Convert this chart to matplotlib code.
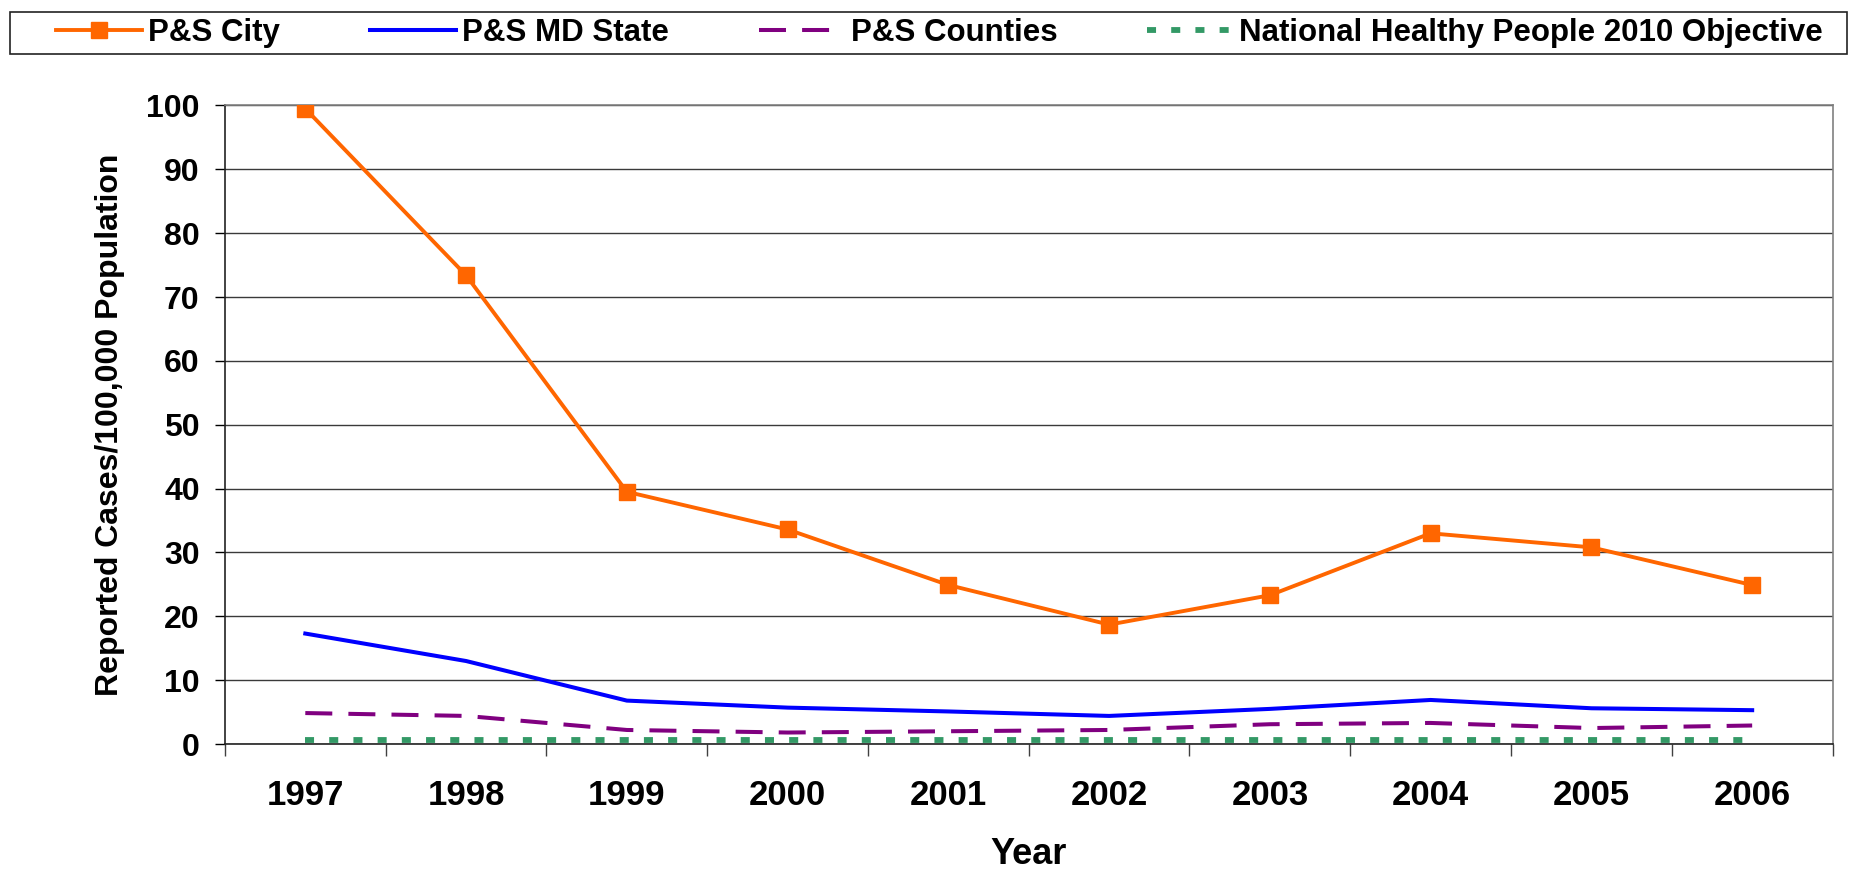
import matplotlib.pyplot as plt
from matplotlib.patches import Rectangle
import numpy as np

plt.rcParams['font.family'] = ['Liberation Sans', 'DejaVu Sans']
plt.rcParams['font.weight'] = 'bold'

years = ['1997', '1998', '1999', '2000', '2001', '2002', '2003', '2004', '2005', '2006']
city = [99.5, 73.4, 39.5, 33.6, 24.9, 18.7, 23.3, 33.0, 30.8, 24.9]
md_state = [17.3, 13.0, 6.8, 5.7, 5.1, 4.4, 5.5, 6.9, 5.6, 5.3]
counties = [4.85, 4.4, 2.2, 1.8, 2.0, 2.2, 3.1, 3.3, 2.5, 2.9]
objective = [0.6] * 10

x = np.arange(len(years))

fig = plt.figure(figsize=(18.65, 8.85), dpi=100)
ax = fig.add_axes([0.1206, 0.1593, 0.862, 0.7215])

ax.plot(x, city, color='#FF6600', lw=2.8, marker='s', markersize=11, label='P&S City', zorder=5)
ax.plot(x, md_state, color='#0000FF', lw=2.9, label='P&S MD State', zorder=4)
ax.plot(x, counties, color='#800080', lw=2.9, linestyle=(0, (6.7, 4)), label='P&S Counties', zorder=3)
ax.plot(x, objective, color='#339966', lw=4.2, linestyle=(0, (1.55, 2.6)),
        label='National Healthy People 2010 Objective', zorder=3)

ax.set_xlim(-0.5, len(years) - 0.5)
ax.set_ylim(0, 100)
ax.set_yticks(np.arange(0, 101, 10))
ax.yaxis.grid(True, color='#3a3a3a', lw=1)
ax.set_axisbelow(True)

# category ticks sit between the years
ax.set_xticks(np.arange(-0.5, len(years), 1))
ax.set_xticklabels([])
ax.set_xticks(x, minor=True)
ax.set_xticklabels(years, minor=True)
ax.tick_params(axis='x', which='major', length=8.6, width=1, color='#404040', direction='out')
ax.tick_params(axis='x', which='minor', length=0, pad=25, labelsize=25)
ax.tick_params(axis='y', length=7.2, width=1, direction='out', labelsize=23, pad=11)

for s in ['left', 'bottom']:
    ax.spines[s].set_color('#222222')
    ax.spines[s].set_linewidth(1.2)
for s in ['right', 'top']:
    ax.spines[s].set_color('#808080')
    ax.spines[s].set_linewidth(1.2)

ax.set_xlabel('Year', fontsize=26, fontweight='bold', labelpad=18)
ax.set_ylabel('Reported Cases/100,000 Population', fontsize=23, fontweight='bold', labelpad=15)

# legend across the top, in its own box
fig.patches.append(Rectangle((10 / 1865, 1 - 54 / 885), 1837 / 1865, 42 / 885,
                             transform=fig.transFigure, fill=False, edgecolor='#222222', lw=1.2))
leg = fig.legend(loc='center left', bbox_to_anchor=(56 / 1865, 1 - 33 / 885), ncol=4,
                 frameon=False, fontsize=22.5, handlelength=2.75, handletextpad=0.2,
                 columnspacing=2.87, borderpad=0, borderaxespad=0)

fig.savefig('out.png', dpi=100)
